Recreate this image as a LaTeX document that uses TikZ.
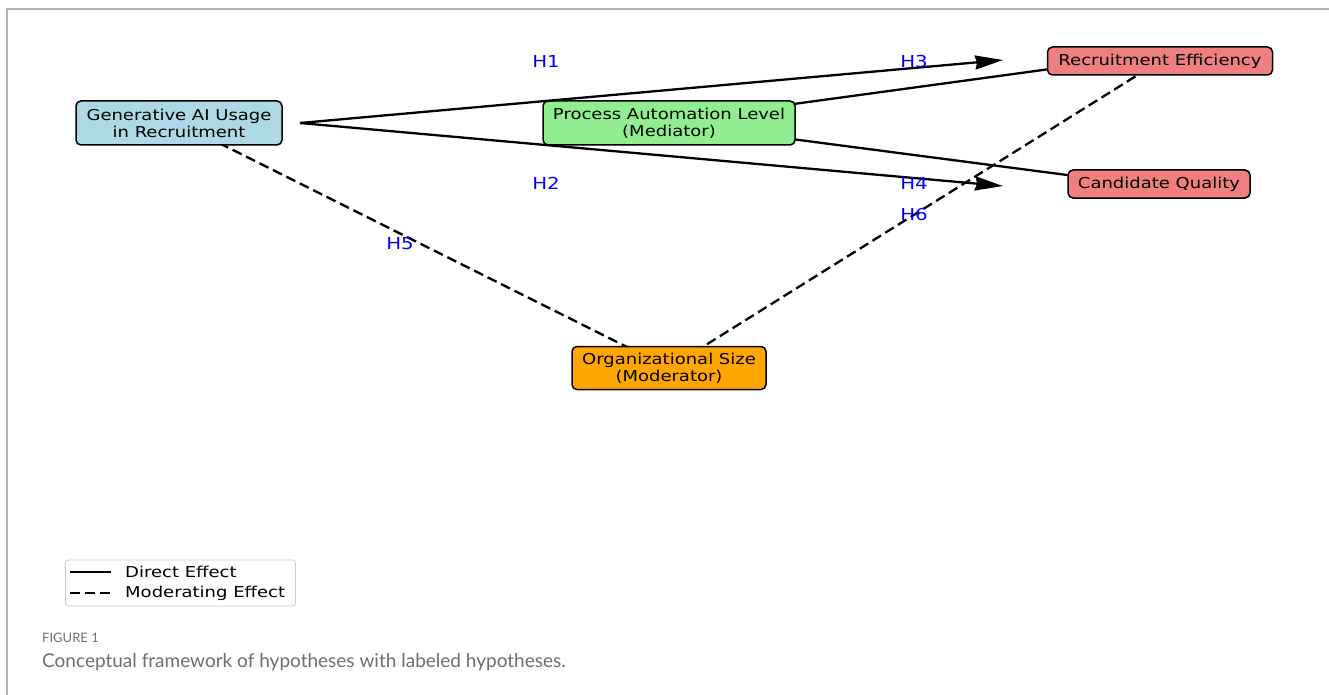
\documentclass[tikz,border=0pt]{standalone}
\usepackage{fontspec}
\setmainfont{DejaVu Sans}
\newfontfamily\diafont[FakeStretch=1.2]{DejaVu Sans}
\newfontfamily\capfont{Lato}
\usetikzlibrary{arrows.meta}
\pgfdeclarelayer{bg}
\pgfsetlayers{bg,main}
\definecolor{boxblue}{HTML}{ADD8E6}
\definecolor{boxgreen}{HTML}{90EE90}
\definecolor{boxred}{HTML}{F08080}
\definecolor{boxorange}{HTML}{FFA500}
\definecolor{framegray}{HTML}{B4B4B4}
\definecolor{capgray}{HTML}{6E6E6E}
\tikzset{
  box/.style={draw=black, line width=1.5pt, rounded corners=5pt, align=center,
    inner sep=0pt, font=\diafont\fontsize{15}{17}\selectfont},
  hyp/.style={text=blue, inner sep=0pt, font=\diafont\fontsize{16.5}{18}\selectfont},
  direct/.style={line width=2.3pt},
  moder/.style={line width=2.3pt, dash pattern=on 10pt off 5pt},
  bigtip/.style={-{Stealth[length=28pt,width=14pt,inset=2pt]}},
  legtext/.style={anchor=west, inner sep=0pt, font=\diafont\fontsize{15}{17}\selectfont},
}
\begin{document}
\begin{tikzpicture}[x=1pt,y=-1pt]
\useasboundingbox (0,0) rectangle (1329,695);

% constructs
\node[box, fill=boxblue, minimum width=206, minimum height=44] (gen) at (179,123)
  {Generative AI Usage\\in Recruitment};
\node[box, fill=boxgreen, minimum width=252, minimum height=44] (pa) at (669,123)
  {Process Automation Level\\(Mediator)};
\node[box, fill=boxred, minimum width=225, minimum height=28] (re) at (1160,61)
  {Recruitment Efficiency};
\node[box, fill=boxred, minimum width=182, minimum height=28] (cq) at (1159,184)
  {Candidate Quality};
\node[box, fill=boxorange, minimum width=194, minimum height=43] (org) at (669,368)
  {Organizational Size\\(Moderator)};

% arrow anchors
\coordinate (src) at (300,123);
\coordinate (tipA) at (1003,60);
\coordinate (tipB) at (1003,186);

% page background, panel frame and the paths that run behind the boxes
\begin{pgfonlayer}{bg}
  \fill[white] (0,0) rectangle (1329,695);
  \draw[framegray, line width=1.5pt] (7,695) -- (7,9) -- (1329,9);
  \draw[direct] ([yshift=2pt]pa.center) -- ([yshift=7pt]re.center);
  \draw[direct] (pa.center) -- ([yshift=-3pt]cq.center);
  \draw[moder] (gen.center) -- (org.center);
  \draw[moder] (org.center) -- (re.center);
\end{pgfonlayer}

% direct effects from generative AI usage
\draw[direct, bigtip] (src) -- (tipA);
\draw[direct, bigtip] (src) -- (tipB);

% hypothesis labels
\node[hyp] (h1) at (546,61) {H1};
\node[hyp] (h2) at (546,183) {H2};
\node[hyp] (h3) at (914,61) {H3};
\node[hyp] (h4) at (914,183) {H4};
\node[hyp] (h5) at (400,244) {H5};
\node[hyp] (h6) at (914,214) {H6};

% legend
\node[draw=framegray!70, line width=0.8pt, rounded corners=3pt,
  minimum width=230, minimum height=46, inner sep=0pt] (leg) at (180.5,583) {};
\coordinate (la1) at (70,572);
\coordinate (lb1) at (111,572);
\coordinate (la2) at (70,593);
\coordinate (lb2) at (111,593);
\draw[direct] (la1) -- (lb1);
\draw[moder] (la2) -- (lb2);
\node[legtext] (ld) at (125,572) {Direct Effect};
\node[legtext] (lm) at (125,593) {Moderating Effect};

% caption
\node[anchor=west, inner sep=0pt, text=capgray, font=\capfont\fontsize{13}{15}\selectfont]
  (figno) at (42,638) {FIGURE 1};
\node[anchor=west, inner sep=0pt, text=capgray, font=\capfont\fontsize{19}{21}\selectfont]
  (cap) at (42,662) {Conceptual framework of hypotheses with labeled hypotheses.};
\end{tikzpicture}
\end{document}
